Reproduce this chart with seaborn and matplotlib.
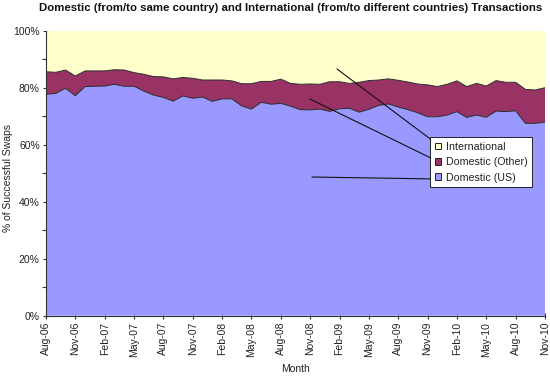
import matplotlib
matplotlib.use("Agg")
import matplotlib.pyplot as plt
import seaborn as sns
import pandas as pd
import numpy as np
from matplotlib.lines import Line2D
from matplotlib.patches import Patch

# ---- data -------------------------------------------------------------
months = pd.date_range("2006-08-01", "2010-11-01", freq="MS")
domestic_us = [77.7, 78.0, 79.8, 77.2, 80.4, 80.5, 80.6, 81.2, 80.5, 80.5,
               78.8, 77.4, 76.6, 75.3, 77.1, 76.3, 76.7, 75.2, 76.1, 76.1,
               73.6, 72.5, 74.9, 74.2, 74.5, 73.5, 72.3, 72.2, 72.5, 71.7,
               72.6, 72.8, 71.4, 72.4, 73.8, 74.3, 73.2, 72.3, 71.2, 69.8,
               69.8, 70.4, 71.6, 69.6, 70.4, 69.6, 71.8, 71.6, 71.9, 67.5,
               67.5, 67.9]
domestic_other = [7.9, 7.4, 6.4, 6.9, 5.5, 5.4, 5.3, 5.1, 5.7, 4.8,
                  5.9, 6.5, 7.2, 7.8, 6.5, 7.0, 6.0, 7.5, 6.6, 6.3,
                  7.8, 8.9, 7.3, 8.0, 8.5, 8.0, 8.9, 9.1, 8.7, 10.4,
                  9.5, 8.7, 10.5, 10.1, 8.9, 8.8, 9.4, 9.7, 10.1, 11.2,
                  10.6, 10.8, 10.8, 10.8, 11.1, 11.0, 10.7, 10.3, 10.0, 11.9,
                  11.7, 12.1]
international = [14.4, 14.6, 13.8, 15.9, 14.1, 14.1, 14.1, 13.7, 13.8, 14.7,
                 15.3, 16.1, 16.2, 16.9, 16.4, 16.7, 17.3, 17.3, 17.3, 17.6,
                 18.6, 18.6, 17.8, 17.8, 17.0, 18.5, 18.8, 18.7, 18.8, 17.9,
                 17.9, 18.5, 18.1, 17.5, 17.3, 16.9, 17.4, 18.0, 18.7, 19.0,
                 19.6, 18.8, 17.6, 19.6, 18.5, 19.4, 17.5, 18.1, 18.1, 20.6,
                 20.8, 20.0]
series_names = ["Domestic (US)", "Domestic (Other)", "International"]
series_colors = ["#9999FF", "#993366", "#FFFFCC"]
tick_months = months[::3]
tick_labels = [m.strftime("%b-%y") for m in tick_months]

# ---- build table -------------------------------------------------------
df = pd.DataFrame({"Month": months,
                   series_names[0]: domestic_us,
                   series_names[1]: domestic_other,
                   series_names[2]: international})
vals = df[series_names].to_numpy(dtype=float)
vals = vals / vals.sum(axis=1, keepdims=True)
cum = np.cumsum(vals, axis=1)
cum_df = pd.DataFrame(cum, columns=series_names)
cum_df["Month"] = months
long_df = cum_df.melt(id_vars="Month", var_name="Series", value_name="Cum")

# ---- style -------------------------------------------------------------
sns.set_theme(style="white")
plt.rcParams["font.family"] = ["Liberation Sans", "DejaVu Sans"]
TXT = "#222222"

W, H = 550, 379
fig = plt.figure(figsize=(W / 100, H / 100), dpi=100)
ax = fig.add_axes([46 / W, 1 - 315.7 / H, (545 - 46) / W, (315.7 - 30.7) / H])

x = np.arange(len(months))
lower = np.zeros(len(months))
for i, name in enumerate(series_names):
    upper = cum[:, i]
    ax.fill_between(x, lower, upper, facecolor=series_colors[i],
                    edgecolor="none", zorder=1)
    lower = upper

sub = long_df[long_df["Series"] != "International"].copy()
sub["xi"] = np.tile(x, 2)
sns.lineplot(data=sub, x="xi", y="Cum", units="Series", estimator=None,
             color="#2a2a2a", linewidth=0.7, ax=ax, legend=False, zorder=2)
ax.plot([x[-1], x[-1]], [0, 1], color="#777777", lw=0.6, zorder=2)

ax.set_xlim(0, len(months) - 1)
ax.set_ylim(0, 1)
ax.set_xticks(x[::3])
ax.set_xticklabels(tick_labels, rotation=90, fontsize=7.5, color=TXT)
ax.set_yticks(np.arange(0, 1.01, 0.2))
ax.set_yticklabels([f"{int(round(v*100))}%" for v in np.arange(0, 1.01, 0.2)],
                   fontsize=7.5, color=TXT)
ax.set_yticks(np.arange(0.1, 1.0, 0.2), minor=True)
ax.tick_params(axis="both", which="both", direction="out", length=3,
               width=0.8, color="#333333", pad=2)
ax.tick_params(axis="x", direction="inout", length=5)
ax.tick_params(axis="y", which="major", direction="inout", length=5)
ax.tick_params(axis="y", which="minor", left=True, length=3)
ax.tick_params(left=True, bottom=True)
for s in ["top", "right"]:
    ax.spines[s].set_visible(False)
for s in ["left", "bottom"]:
    ax.spines[s].set_color("#333333")
    ax.spines[s].set_linewidth(0.8)
ax.set_xlabel("Month", fontsize=7.5, color=TXT, labelpad=5)
ax.set_ylabel("")
fig.text(8 / W, 1 - 178 / H, "% of Successful Swaps", rotation=90,
         ha="center", va="center", fontsize=7.5, color=TXT)
ax.grid(False)

fig.text(291 / W, 1 - 8 / H,
         "Domestic (from/to same country) and International (from/to different countries) Transactions",
         ha="center", va="center", fontsize=8.2, fontweight="bold", color="#111111")

# legend (reverse order: International on top)
handles = [Patch(facecolor=series_colors[i], edgecolor="#222222", linewidth=0.7)
           for i in [2, 1, 0]]
labels = [series_names[i] for i in [2, 1, 0]]
leg = fig.legend(handles, labels, loc="upper left",
                 bbox_to_anchor=(430 / W, 1 - 137 / H),
                 fontsize=7.7, frameon=True, fancybox=False, shadow=False,
                 handlelength=0.6, handleheight=0.6, handletextpad=0.4,
                 borderpad=0.45, labelspacing=0.5, borderaxespad=0)
leg.get_frame().set_edgecolor("#222222")
leg.get_frame().set_linewidth(0.7)
leg.get_frame().set_facecolor("white")
leg.get_frame().set_alpha(1)
for t in leg.get_texts():
    t.set_color(TXT)

# leader lines
for (x0, y0), (x1, y1) in [((337, 69), (437, 144)),
                           ((310, 99), (437, 161)),
                           ((312, 177), (437, 179))]:
    fig.add_artist(Line2D([x0 / W, x1 / W], [1 - y0 / H, 1 - y1 / H],
                          transform=fig.transFigure, color="#111111", lw=0.8))

fig.savefig("out.png", dpi=100, facecolor="white")
